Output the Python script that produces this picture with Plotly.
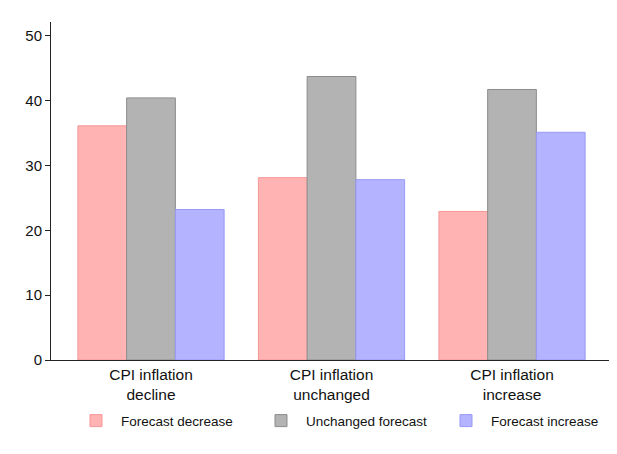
import plotly.graph_objects as go

categories = ["CPI inflation<br>decline", "CPI inflation<br>unchanged", "CPI inflation<br>increase"]
series_names = ["Forecast decrease", "Unchanged forecast", "Forecast increase"]
forecast_decrease = [36.1, 28.1, 22.9]
unchanged_forecast = [40.4, 43.7, 41.7]
forecast_increase = [23.2, 27.8, 35.1]
y_ticks = [0, 10, 20, 30, 40, 50]

fills = ["#FFB3B3", "#B3B3B3", "#B3B3FF"]
lines = ["#F59696", "#8C8C8C", "#9999F5"]

fig = go.Figure()
for name, vals, fc, lc in zip(series_names, [forecast_decrease, unchanged_forecast, forecast_increase], fills, lines):
    fig.add_trace(go.Bar(x=categories, y=vals, name=name,
                         marker=dict(color=fc, line=dict(color=lc, width=1))))

fig.update_layout(
    width=609, height=446,
    barmode="group", bargap=0.19, bargroupgap=0,
    paper_bgcolor="white", plot_bgcolor="white",
    margin=dict(l=43, r=3, t=14, b=94, autoexpand=False),
    font=dict(family="Liberation Sans, Arial", size=15, color="#111"),
    xaxis=dict(showline=True, linecolor="#222", linewidth=1, ticks="", showgrid=False,
               range=[-0.554, 2.565], tickfont=dict(size=15.5), automargin=False),
    yaxis=dict(showline=True, linecolor="#222", linewidth=1, ticks="outside", ticklen=5,
               tickcolor="#222", tickvals=y_ticks, range=[0, 52.1], showgrid=False,
               zeroline=False, tickfont=dict(size=15), automargin=False),
    legend=dict(orientation="h", x=0.0355, xanchor="left", y=-0.18, yanchor="middle",
                font=dict(size=13.5), entrywidth=130, itemwidth=40, traceorder="normal",
                bgcolor="rgba(0,0,0,0)"),
    showlegend=True,
)
fig.write_html("out.html")
